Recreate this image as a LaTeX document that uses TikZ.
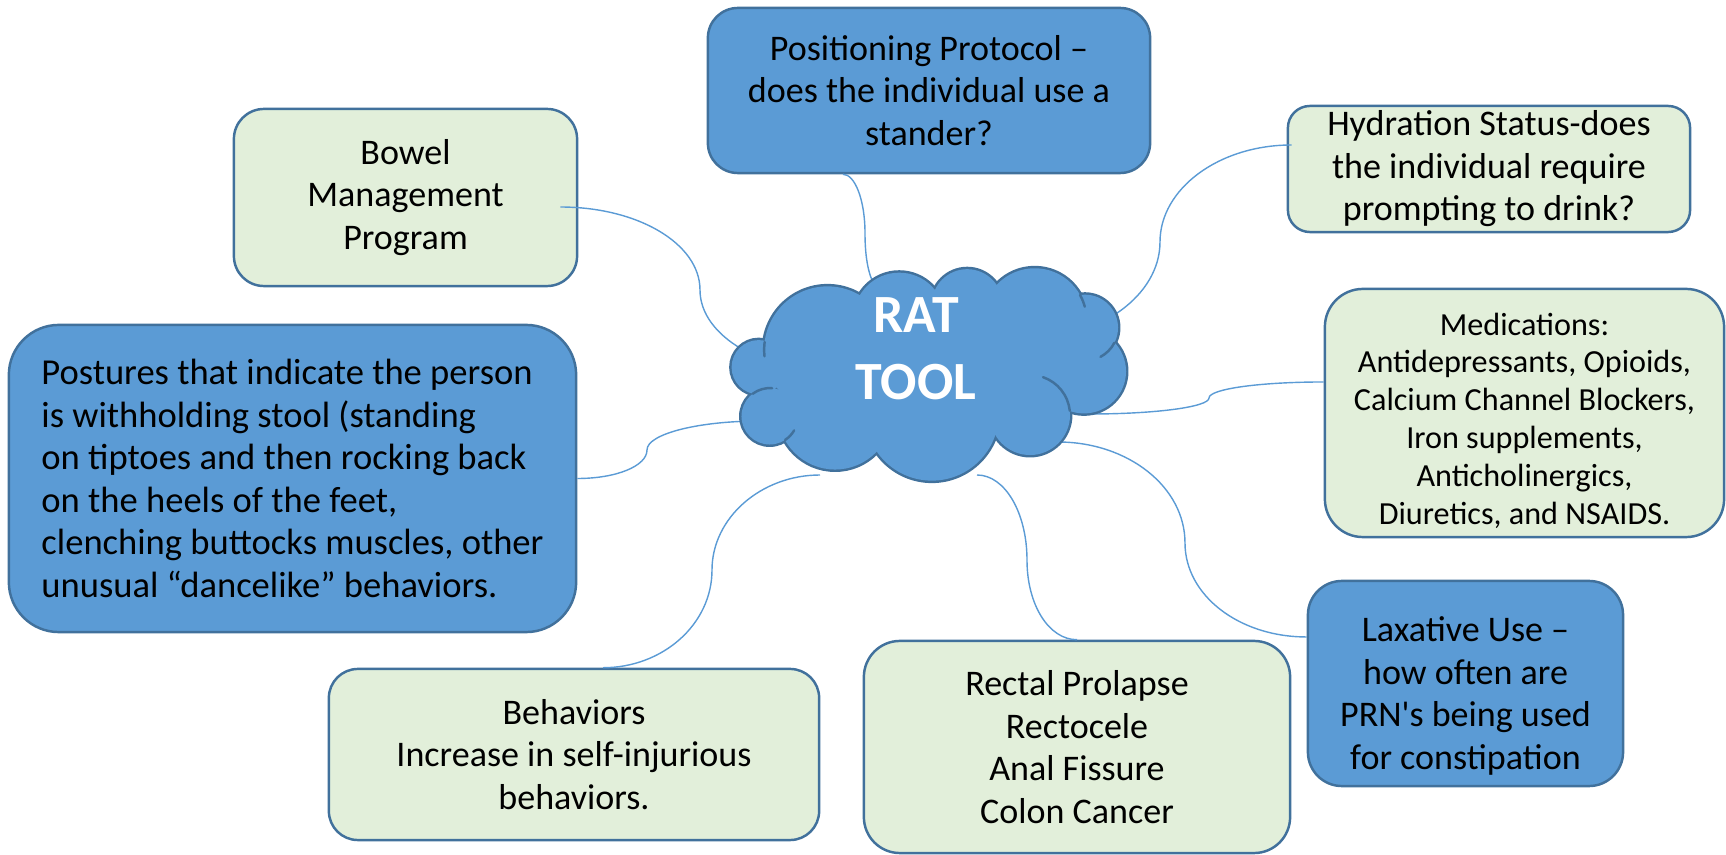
\documentclass[tikz,border=0pt]{standalone}
\usepackage{fontspec}
\setmainfont{Carlito}
\newfontfamily\plainfont{Carlito}

\definecolor{boxblue}{HTML}{5B9BD5}
\definecolor{boxedge}{HTML}{41719C}
\definecolor{boxgreen}{HTML}{E2EFDA}
\definecolor{linkblue}{HTML}{5B9BD5}

\begin{document}
\begin{tikzpicture}[x=0.01cm, y=0.01cm,
		box/.style={draw=boxedge, line width=0.7pt, align=center, inner sep=0pt, font=\fontsize{10.25}{12.1}\selectfont},
		greenbox/.style={box, fill=boxgreen},
		bluebox/.style={box, fill=boxblue},
		link/.style={draw=linkblue, line width=0.4pt},
		cloudedge/.style={draw=boxedge, line width=0.7pt, line cap=round}]
		\useasboundingbox (0,0) rectangle (1726,-855);

		% draw the boxes
		\node (posit) at (929,-90.5) [bluebox, minimum width=4.42cm, minimum height=1.65cm, rounded corners=0.3cm] {Positioning Protocol –\\does the individual use a\\stander?};
		\node (hydra) at (1489,-169) [greenbox, minimum width=4.02cm, minimum height=1.26cm, rounded corners=0.22cm] {Hydration Status-does\\the individual require\\prompting to drink?};
		\node (bowel) at (405.5,-197.5) [greenbox, minimum width=3.43cm, minimum height=1.77cm, rounded corners=0.3cm] {Bowel\\Management\\Program};
		\node (postures) at (292.5,-478.5) [bluebox, minimum width=5.67cm, minimum height=3.07cm, rounded corners=0.5cm, align=left, font=\fontsize{10.4}{12.1}\selectfont] {Postures that indicate the person\\is withholding stool (standing\\on tiptoes and then rocking back\\on the heels of the feet,\\clenching buttocks muscles, other\\unusual “dancelike” behaviors.};
		\node (medic) at (1524.5,-413) [greenbox, minimum width=3.99cm, minimum height=2.48cm, rounded corners=0.38cm, font=\fontsize{9.15}{10.8}\selectfont] {\rule{0pt}{0.38cm}Medications:\\Antidepressants, Opioids,\\Calcium Channel Blockers,\\Iron supplements,\\Anticholinergics,\\Diuretics, and NSAIDS.};
		\node (laxat) at (1465.5,-683.5) [bluebox, minimum width=3.15cm, minimum height=2.05cm, rounded corners=0.34cm] {\rule{0pt}{0.5cm}Laxative Use –\\how often are\\PRN{\plainfont'}s being used\\for constipation};
		\node (rectal) at (1077,-747) [greenbox, minimum width=4.26cm, minimum height=2.12cm, rounded corners=0.36cm] {Rectal Prolapse\\Rectocele\\Anal Fissure\\Colon Cancer};
		\node (behav) at (574,-754.5) [greenbox, minimum width=4.9cm, minimum height=1.71cm, rounded corners=0.29cm] {Behaviors\\Increase in self-injurious\\behaviors.};

		% bends and ends of the links
		\coordinate (k1) at (865,-233);  \coordinate (e1) at (887,-293);
		\coordinate (k2) at (1160,-242); \coordinate (e2) at (1027,-339);
		\coordinate (k3) at (700,-290);  \coordinate (e3) at (841,-373);
		\coordinate (k4) at (647,-450);  \coordinate (e4) at (760,-421);
		\coordinate (k5) at (1209,-398); \coordinate (e5) at (1090,-414);
		\coordinate (k6) at (1185,-543); \coordinate (e6) at (1058,-442);
		\coordinate (k7) at (1027,-560); \coordinate (e7) at (977,-475);
		\coordinate (k8) at (712,-570);  \coordinate (e8) at (820,-475);

		% draw the links to the cloud
		\draw [link] ([xshift=-0.86cm]posit.south) to [out=0, in=90, out distance=0.12cm, in distance=0.33cm] (k1) to [out=-90, in=180, out distance=0.37cm, in distance=0.14cm] (e1);
		\draw [link] ([xshift=0.05cm, yshift=0.24cm]hydra.west) to [out=180, in=90, out distance=0.73cm, in distance=0.53cm] (k2) to [out=-90, in=0, out distance=0.53cm, in distance=0.73cm] (e2);
		\draw [link] ([xshift=-0.18cm, yshift=-0.095cm]bowel.east) to [out=0, in=90, out distance=0.78cm, in distance=0.46cm] (k3) to [out=-90, in=180, out distance=0.46cm, in distance=0.78cm] (e3);
		\draw [link] (postures.east) to [out=0, in=-90, out distance=0.39cm, in distance=0.16cm] (k4) to [out=90, in=180, out distance=0.16cm, in distance=0.62cm] (e4);
		\draw [link] ([yshift=0.31cm]medic.west) to [out=180, in=90, out distance=0.64cm, in distance=0.09cm] (k5) to [out=-90, in=0, out distance=0.09cm, in distance=0.65cm] (e5);
		\draw [link] ([yshift=0.465cm]laxat.west) to [out=180, in=-90, out distance=0.68cm, in distance=0.52cm] (k6) to [out=90, in=0, out distance=0.56cm, in distance=0.70cm] (e6);
		\draw [link] (rectal.north) to [out=180, in=-90, out distance=0.28cm, in distance=0.45cm] (k7) to [out=90, in=0, out distance=0.47cm, in distance=0.28cm] (e7);
		\draw [link] ([xshift=0.29cm]behav.north) to [out=0, in=-90, out distance=0.60cm, in distance=0.54cm] (k8) to [out=90, in=180, out distance=0.52cm, in distance=0.59cm] (e8);

		% draw the cloud: outline of the puffs first, then the fill over it
		\foreach \cx/\cy/\r in {827.5/349.7/0.633, 899.2/318.3/0.456, 967.2/304.6/0.354, 1034.7/320.1/0.518, 1085/327.7/0.33, 1084/371.4/0.42, 1030/415/0.40, 931.9/413.8/0.668, 835.1/412.2/0.573, 769.7/416.3/0.282, 758.7/367.2/0.271}
			\draw [draw=boxedge, line width=1.4pt] (\cx,-\cy) circle (\r cm);
		\fill [boxblue] (925,-375) ellipse (1.3cm and 0.55cm);
		\foreach \cx/\cy/\r in {827.5/349.7/0.633, 899.2/318.3/0.456, 967.2/304.6/0.354, 1034.7/320.1/0.518, 1085/327.7/0.33, 1084/371.4/0.42, 1030/415/0.40, 931.9/413.8/0.668, 835.1/412.2/0.573, 769.7/416.3/0.282, 758.7/367.2/0.271}
			\fill [boxblue] (\cx,-\cy) circle (\r cm);

		% inner strokes of the cloud
		\draw [cloudedge] (1030,-415) ++(6:0.4cm) arc [start angle=6, end angle=71, radius=0.4cm];
		\draw [cloudedge] (1085,-327.7) ++(-27:0.33cm) arc [start angle=-27, end angle=-62, radius=0.33cm];
		\draw [cloudedge] (769.7,-416.3) ++(127:0.282cm) arc [start angle=127, end angle=85, radius=0.282cm];
		\draw [cloudedge] (769.7,-416.3) ++(-57:0.282cm) arc [start angle=-57, end angle=-30, radius=0.282cm];
		\draw [cloudedge] (827.5,-349.7) ++(173:0.633cm) arc [start angle=173, end angle=186, radius=0.633cm];
		\draw [cloudedge] (1034.7,-320.1) ++(29:0.518cm) arc [start angle=29, end angle=15, radius=0.518cm];

		\node (rat) at (916,-349) [text=white, align=center, font=\fontsize{15.3}{19}\selectfont\bfseries] {RAT\\TOOL};
\end{tikzpicture}
\end{document}
